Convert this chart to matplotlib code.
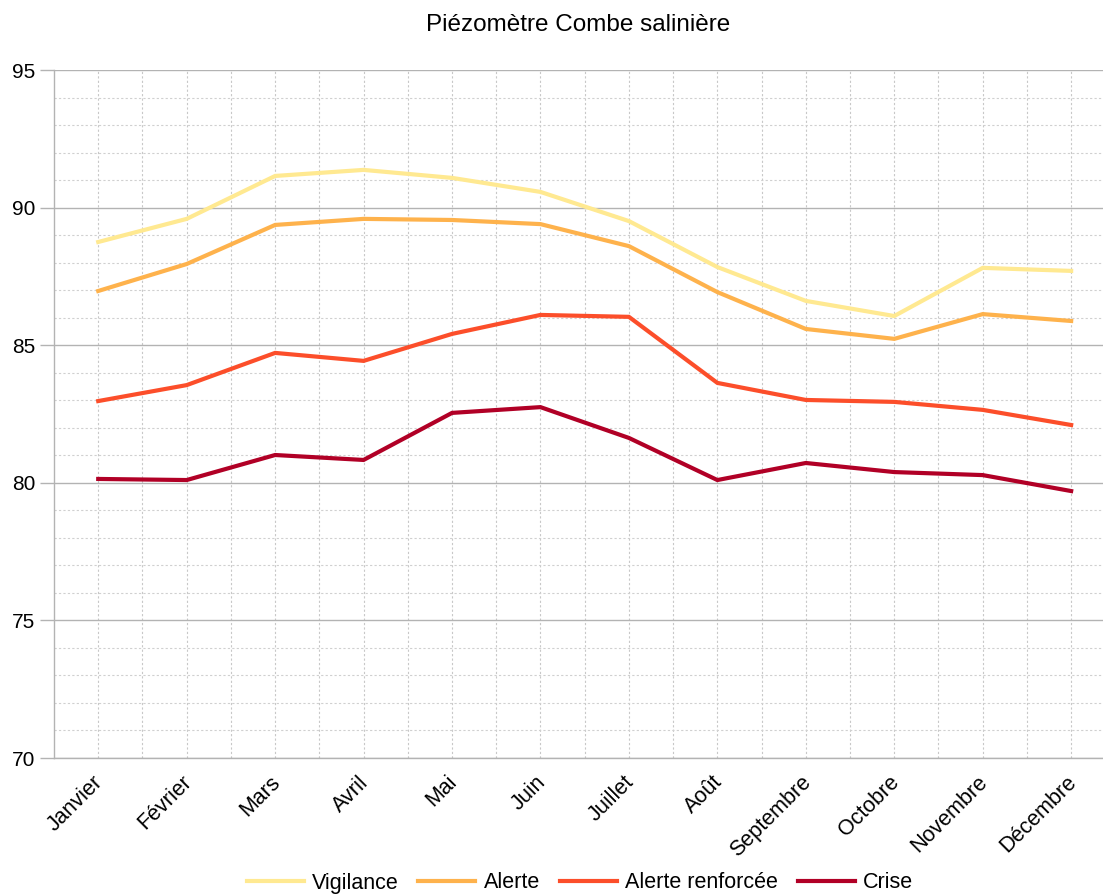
import matplotlib
matplotlib.use('Agg')
import matplotlib.pyplot as plt
from matplotlib.ticker import MultipleLocator
import numpy as np

plt.rcParams['font.family'] = ['Liberation Sans', 'DejaVu Sans']

mois = ['Janvier', 'Février', 'Mars', 'Avril', 'Mai', 'Juin', 'Juillet', 'Août',
        'Septembre', 'Octobre', 'Novembre', 'Décembre']

vigilance = [88.75, 89.59, 91.15, 91.37, 91.08, 90.57, 89.51, 87.84, 86.61, 86.06, 87.81, 87.70]
alerte = [86.97, 87.95, 89.37, 89.59, 89.55, 89.40, 88.60, 86.93, 85.59, 85.23, 86.13, 85.88]
alerte_renforcee = [82.97, 83.55, 84.72, 84.43, 85.41, 86.10, 86.03, 83.63, 83.01, 82.94, 82.65, 82.10]
crise = [80.14, 80.10, 81.01, 80.83, 82.54, 82.75, 81.63, 80.10, 80.72, 80.39, 80.28, 79.70]

series = [
    ('Vigilance', vigilance, '#ffe991'),
    ('Alerte', alerte, '#feb24c'),
    ('Alerte renforcée', alerte_renforcee, '#fc4e2a'),
    ('Crise', crise, '#b10026'),
]

fig = plt.figure(figsize=(11.03, 8.94), dpi=100)
ax = fig.add_axes([54 / 1103, 1 - 758 / 894, (1103 - 54) / 1103, 688 / 894])

x = np.arange(len(mois))
for name, vals, col in series:
    ax.plot(x, vals, color=col, lw=3, label=name, solid_joinstyle='miter', zorder=3)

ax.set_ylim(70, 95)
ax.set_xlim(-0.5, 11.36)
ax.yaxis.set_major_locator(MultipleLocator(5))
ax.yaxis.set_minor_locator(MultipleLocator(1))
ax.set_xticks(x)
ax.set_xticks(x[:-1] + 0.5, minor=True)
ax.set_xticklabels(mois, rotation=45, ha='right', va='center_baseline',
                   rotation_mode='anchor', fontsize=15.5)
ax.tick_params(axis='y', which='major', labelsize=15, length=10, color='#b3b3b3', width=1)
ax.tick_params(axis='y', which='minor', length=0)
ax.tick_params(axis='x', which='both', length=0, pad=14)

ax.grid(axis='y', which='major', color='#b3b3b3', lw=1, ls='-')
ax.grid(axis='y', which='minor', color='#d0d0d0', lw=0.8, ls=(0, (2, 2)))
ax.grid(axis='x', which='both', color='#c8c8c8', lw=0.8, ls=(0, (2, 2)))
ax.set_axisbelow(True)

for s in ['top', 'right']:
    ax.spines[s].set_visible(False)
for s in ['left', 'bottom']:
    ax.spines[s].set_color('#b3b3b3')
    ax.spines[s].set_linewidth(1)

fig.text(578 / 1103, 1 - 25 / 894, 'Piézomètre Combe salinière', ha='center', va='center', fontsize=17.5)

fig.legend(loc='center', bbox_to_anchor=(580 / 1103, 1 - 883 / 894), ncol=4, frameon=False,
           fontsize=15.5, handlelength=2.65, handletextpad=0.4, columnspacing=0.9, borderaxespad=0)

fig.savefig('out.png', dpi=100)
